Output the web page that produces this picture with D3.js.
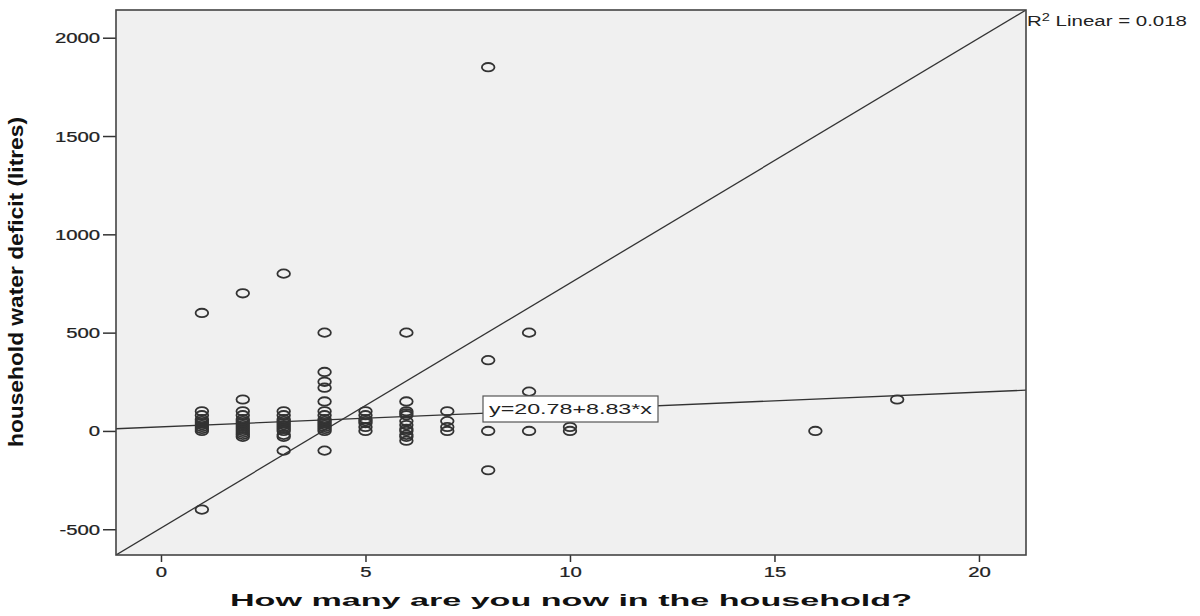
<!DOCTYPE html>
<html>
<head>
<meta charset="utf-8">
<script src="https://cdn.jsdelivr.net/npm/d3@7"></script>
<style>
  html, body { margin: 0; padding: 0; background: #ffffff; }
  svg { display: block; }
  text { font-family: "Liberation Sans", Arial, sans-serif; fill: #111; }
</style>
</head>
<body>
<svg id="chart" width="1200" height="616"></svg>
<script>
// ---- data ----
const householdSize = [
  1,1,1,1,1,1,1,1,1,1,1,
  2,2,2,2,2,2,2,2,2,2,2,2,2,2,
  3,3,3,3,3,3,3,3,3,3,3,3,3,
  4,4,4,4,4,4,4,4,4,4,4,4,4,4,4,
  5,5,5,5,5,5,5,
  6,6,6,6,6,6,6,6,6,6,6,6,
  7,7,7,7,
  8,8,8,8,
  9,9,9,
  10,10,
  16,
  18
];
const waterDeficit = [
  -400,600,100,80,60,50,40,30,20,10,0,
  700,160,100,80,60,50,40,30,20,10,0,-10,-20,-30,
  800,100,80,60,50,40,30,20,10,0,-20,-30,-100,
  500,300,250,220,150,100,80,60,50,40,30,20,10,0,-100,
  100,80,60,50,40,20,0,
  500,150,100,90,80,50,30,10,0,-20,-30,-50,
  100,50,20,0,
  1850,360,0,-200,
  500,200,0,
  20,0,
  0,
  160
];
const xDomain = [-1.1, 21.15];
const yDomain = [-631, 2141];
const xTicks = [0, 5, 10, 15, 20];
const yTicks = [-500, 0, 500, 1000, 1500, 2000];
const fitIntercept = 20.78;
const fitSlope = 8.83;
const fitLabel = "y=20.78+8.83*x";
const r2Label = "0.018";
const xTitle = "How many are you now in the household?";
const yTitle = "household water deficit (litres)";

// ---- drawing ----
const svg = d3.select("#chart");
const plot = { left: 116, right: 1026, top: 10, bottom: 555 };
const x = d3.scaleLinear().domain(xDomain).range([plot.left, plot.right]);
const y = d3.scaleLinear().domain(yDomain).range([plot.bottom, plot.top]);

// background frame
svg.append("rect")
  .attr("x", plot.left).attr("y", plot.top)
  .attr("width", plot.right - plot.left).attr("height", plot.bottom - plot.top)
  .attr("fill", "#f0f0f0").attr("stroke", "none");

const stretch = 1.45;
const fmt = d => String(d);

// y axis
const yAxis = svg.append("g")
  .attr("transform", `translate(${plot.left},0)`)
  .call(d3.axisLeft(y).tickValues(yTicks).tickSize(13).tickFormat(fmt));
yAxis.select(".domain").remove();
yAxis.selectAll(".tick line").attr("stroke", "#333").attr("stroke-width", 1.5);
yAxis.selectAll(".tick text")
  .attr("x", -11).attr("dy", "0.36em")
  .attr("transform", `scale(${stretch},1)`)
  .style("font-size", "14px").style("fill", "#222")
  .style("stroke", "#222").style("stroke-width", 0.25);

// x axis
const xAxis = svg.append("g")
  .attr("transform", `translate(0,${plot.bottom})`)
  .call(d3.axisBottom(x).tickValues(xTicks).tickSize(7).tickPadding(5).tickFormat(fmt));
xAxis.select(".domain").remove();
xAxis.selectAll(".tick line").attr("stroke", "#333").attr("stroke-width", 1.5);
xAxis.selectAll(".tick text")
  .attr("transform", `scale(${stretch},1)`)
  .style("font-size", "14px").style("fill", "#222")
  .style("stroke", "#222").style("stroke-width", 0.25);

// clip for lines
svg.append("clipPath").attr("id", "clip")
  .append("rect")
  .attr("x", plot.left).attr("y", plot.top)
  .attr("width", plot.right - plot.left).attr("height", plot.bottom - plot.top);

const lines = svg.append("g").attr("clip-path", "url(#clip)");

// diagonal reference line (corner to corner)
lines.append("line")
  .attr("x1", x(xDomain[0])).attr("y1", y(yDomain[0]))
  .attr("x2", x(xDomain[1])).attr("y2", y(yDomain[1]))
  .attr("stroke", "#333").attr("stroke-width", 1.3);

// fit line
lines.append("line")
  .attr("x1", x(xDomain[0])).attr("y1", y(fitIntercept + fitSlope * xDomain[0]))
  .attr("x2", x(xDomain[1])).attr("y2", y(fitIntercept + fitSlope * xDomain[1]))
  .attr("stroke", "#333").attr("stroke-width", 1.3);

// points
const pts = householdSize.map((h, i) => ({ h, d: waterDeficit[i] }));
svg.append("g").selectAll("ellipse").data(pts).join("ellipse")
  .attr("cx", d => x(d.h)).attr("cy", d => y(d.d))
  .attr("rx", 6.3).attr("ry", 4.2)
  .attr("fill", "none").attr("stroke", "#333").attr("stroke-width", 1.8);

// frame border
svg.append("rect")
  .attr("x", plot.left).attr("y", plot.top)
  .attr("width", plot.right - plot.left).attr("height", plot.bottom - plot.top)
  .attr("fill", "none").attr("stroke", "#444").attr("stroke-width", 1.6);

// fit label box
const box = svg.append("g");
box.append("rect")
  .attr("x", 483).attr("y", 396).attr("width", 175).attr("height", 26)
  .attr("fill", "#ffffff").attr("stroke", "#555").attr("stroke-width", 1.2);
box.append("text")
  .attr("x", 489).attr("y", 414)
  .attr("textLength", 163).attr("lengthAdjust", "spacingAndGlyphs")
  .style("font-size", "15px").style("fill", "#222")
  .text(fitLabel);

// R² label
const r2 = svg.append("text")
  .attr("x", 1027).attr("y", 26)
  .attr("textLength", 160).attr("lengthAdjust", "spacingAndGlyphs")
  .style("font-size", "14px").style("fill", "#222");
r2.append("tspan").text("R");
r2.append("tspan").attr("dy", -5).style("font-size", "10px").text("2");
r2.append("tspan").attr("dy", 5).text(" Linear = " + r2Label);

// axis titles
svg.append("text")
  .attr("x", 571).attr("y", 606)
  .attr("text-anchor", "middle")
  .attr("textLength", 682).attr("lengthAdjust", "spacingAndGlyphs")
  .style("font-size", "16px").style("font-weight", "bold").style("fill", "#111")
  .text(xTitle);

svg.append("text")
  .attr("transform", `translate(23,282) scale(1.35,1) rotate(-90)`)
  .attr("text-anchor", "middle")
  .attr("textLength", 330).attr("lengthAdjust", "spacingAndGlyphs")
  .style("font-size", "15px").style("font-weight", "bold").style("fill", "#111")
  .text(yTitle);
</script>
</body>
</html>
